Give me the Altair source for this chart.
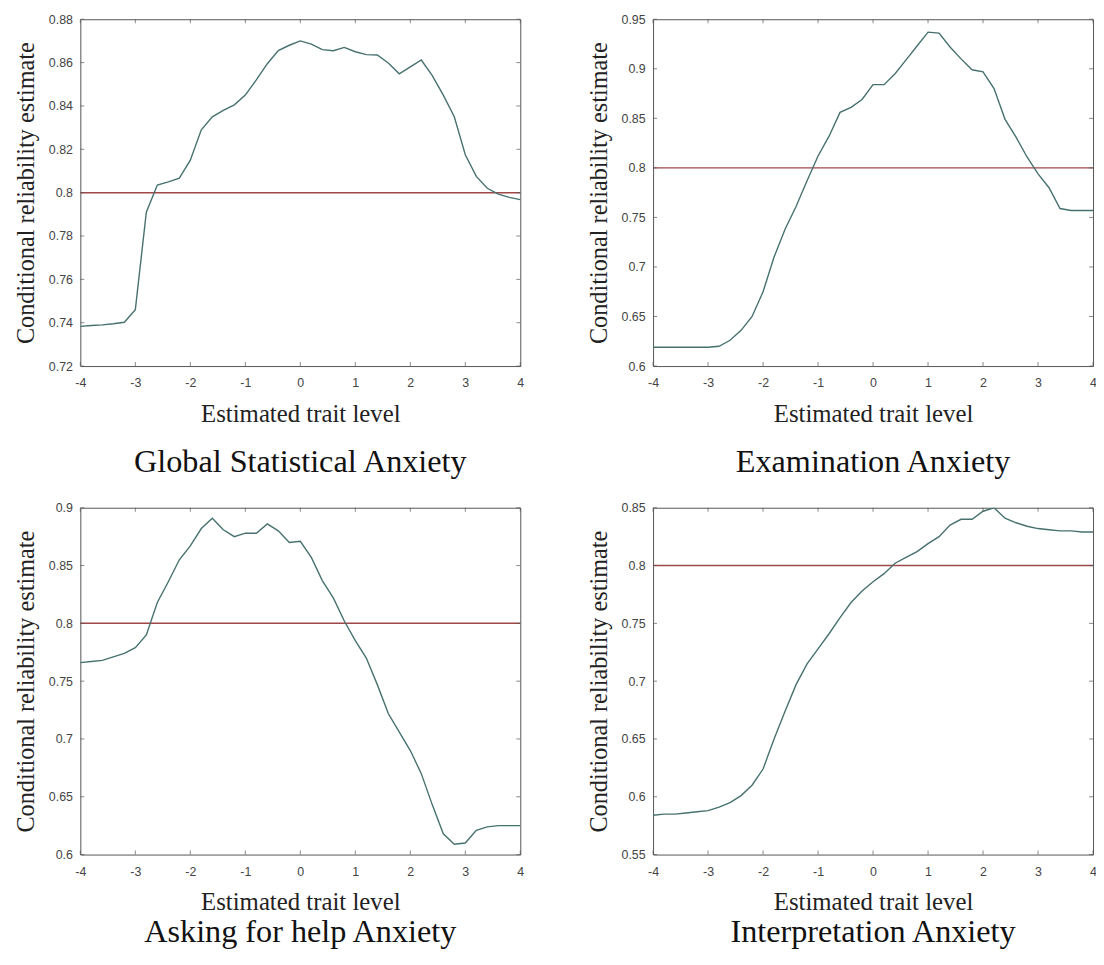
import altair as alt
import pandas as pd

# Trait grid shared by all four panels
theta = [round(-4 + 0.2 * i, 1) for i in range(41)]

# Conditional reliability estimates
global_stat = [0.7383, 0.7387, 0.7390, 0.7395, 0.7402, 0.7460, 0.7910, 0.8035, 0.8050, 0.8067,
               0.8150, 0.8290, 0.8350, 0.8380, 0.8405, 0.8450, 0.8520, 0.8595, 0.8655, 0.8680,
               0.8700, 0.8685, 0.8660, 0.8655, 0.8670, 0.8650, 0.8637, 0.8635, 0.8598, 0.8548,
               0.8580, 0.8612, 0.8540, 0.8450, 0.8350, 0.8175, 0.8075, 0.8020, 0.7993, 0.7978,
               0.7968]
examination = [0.619, 0.619, 0.619, 0.619, 0.619, 0.619, 0.620, 0.626, 0.636, 0.650,
               0.675, 0.710, 0.738, 0.761, 0.787, 0.812, 0.832, 0.856, 0.861, 0.869,
               0.884, 0.884, 0.895, 0.909, 0.923, 0.937, 0.936, 0.922, 0.910, 0.899,
               0.897, 0.880, 0.849, 0.831, 0.811, 0.794, 0.780, 0.759, 0.757, 0.757,
               0.757]
asking_help = [0.766, 0.767, 0.768, 0.771, 0.774, 0.779, 0.790, 0.818, 0.836, 0.855,
               0.867, 0.882, 0.891, 0.881, 0.875, 0.878, 0.878, 0.886, 0.880, 0.870,
               0.871, 0.857, 0.837, 0.822, 0.802, 0.785, 0.770, 0.747, 0.722, 0.706,
               0.690, 0.670, 0.643, 0.618, 0.609, 0.610, 0.621, 0.624, 0.625, 0.625,
               0.625]
interpretation = [0.584, 0.585, 0.585, 0.586, 0.587, 0.588, 0.591, 0.595, 0.601, 0.610,
                  0.624, 0.650, 0.674, 0.697, 0.715, 0.728, 0.741, 0.755, 0.768, 0.778,
                  0.786, 0.793, 0.802, 0.807, 0.812, 0.819, 0.825, 0.835, 0.840, 0.840,
                  0.847, 0.850, 0.841, 0.837, 0.834, 0.832, 0.831, 0.830, 0.830, 0.829,
                  0.829]

threshold = 0.8
x_ticks = [-4, -3, -2, -1, 0, 1, 2, 3, 4]

panels = [
    ("Global Statistical Anxiety", global_stat, [0.72, 0.88],
     [0.72, 0.74, 0.76, 0.78, 0.80, 0.82, 0.84, 0.86, 0.88]),
    ("Examination Anxiety", examination, [0.60, 0.95],
     [0.60, 0.65, 0.70, 0.75, 0.80, 0.85, 0.90, 0.95]),
    ("Asking for help Anxiety", asking_help, [0.60, 0.90],
     [0.60, 0.65, 0.70, 0.75, 0.80, 0.85, 0.90]),
    ("Interpretation Anxiety", interpretation, [0.55, 0.85],
     [0.55, 0.60, 0.65, 0.70, 0.75, 0.80, 0.85]),
]

LINE_COLOR = "#46716f"
REF_COLOR = "#a04848"
FRAME = "#555555"
SANS = "Liberation Sans"
SERIF = "Liberation Serif"


def make_panel(title, values, domain, y_ticks, title_offset):
    df = pd.DataFrame({"theta": theta, "rel": values})
    x = alt.X("theta:Q",
              scale=alt.Scale(domain=[-4, 4], nice=False, zero=False),
              axis=alt.Axis(values=x_ticks, labelExpr="'' + datum.value",
                            title="Estimated trait level", labelFlush=False))
    y = alt.Y("rel:Q",
              scale=alt.Scale(domain=domain, nice=False, zero=False),
              axis=alt.Axis(values=y_ticks,
                            labelExpr="'' + round(datum.value * 100) / 100",
                            title="Conditional reliability estimate"))
    line = alt.Chart(df).mark_line(color=LINE_COLOR, strokeWidth=1.4, clip=True).encode(x=x, y=y)
    ref = alt.Chart(pd.DataFrame({"rel": [threshold]})).mark_rule(
        color=REF_COLOR, strokeWidth=1.5).encode(y=y)

    # inward tick marks on all four sides (MATLAB style box)
    bottom = pd.DataFrame({"theta": x_ticks, "rel": [domain[0]] * len(x_ticks)})
    top = pd.DataFrame({"theta": x_ticks, "rel": [domain[1]] * len(x_ticks)})
    left = pd.DataFrame({"theta": [-4] * len(y_ticks), "rel": y_ticks})
    right = pd.DataFrame({"theta": [4] * len(y_ticks), "rel": y_ticks})
    tb = alt.Chart(bottom).mark_tick(orient="vertical", size=4, thickness=1,
                                     color=FRAME, yOffset=-2).encode(x=x, y=y)
    tt = alt.Chart(top).mark_tick(orient="vertical", size=4, thickness=1,
                                  color=FRAME, yOffset=2).encode(x=x, y=y)
    tl = alt.Chart(left).mark_tick(orient="horizontal", size=4, thickness=1,
                                   color=FRAME, xOffset=2).encode(x=x, y=y)
    tr = alt.Chart(right).mark_tick(orient="horizontal", size=4, thickness=1,
                                    color=FRAME, xOffset=-2).encode(x=x, y=y)

    return alt.layer(ref, line, tb, tt, tl, tr).properties(
        width=444, height=350,
        title=alt.TitleParams(text=title, orient="bottom", font=SERIF, fontSize=32.5,
                              fontWeight="normal", color="#111111", frame="group",
                              anchor="middle", offset=title_offset),
    )


offsets = [20, 20, 2, 2]
p = [make_panel(*args, off) for args, off in zip(panels, offsets)]
row1 = alt.hconcat(p[0], p[1], spacing=62)
row2 = alt.hconcat(p[2], p[3], spacing=62)
chart = alt.vconcat(row1, row2, spacing=22).properties(
    padding={"left": 5, "top": 0, "right": -1, "bottom": 0}
).configure_view(
    stroke=FRAME, strokeWidth=1
).configure_axis(
    grid=False, ticks=False, domain=False,
    labelFont=SANS, labelFontSize=12.5, labelColor="#444444",
    titleFont=SERIF, titleFontWeight="normal", titleColor="#222222",
).configure_axisX(
    labelPadding=11, titleFontSize=25, titlePadding=12,
).configure_axisY(
    labelPadding=8, titleFontSize=24.5, titlePadding=10,
)

chart.save("out.html", embed_options={"renderer": "svg", "actions": False})
